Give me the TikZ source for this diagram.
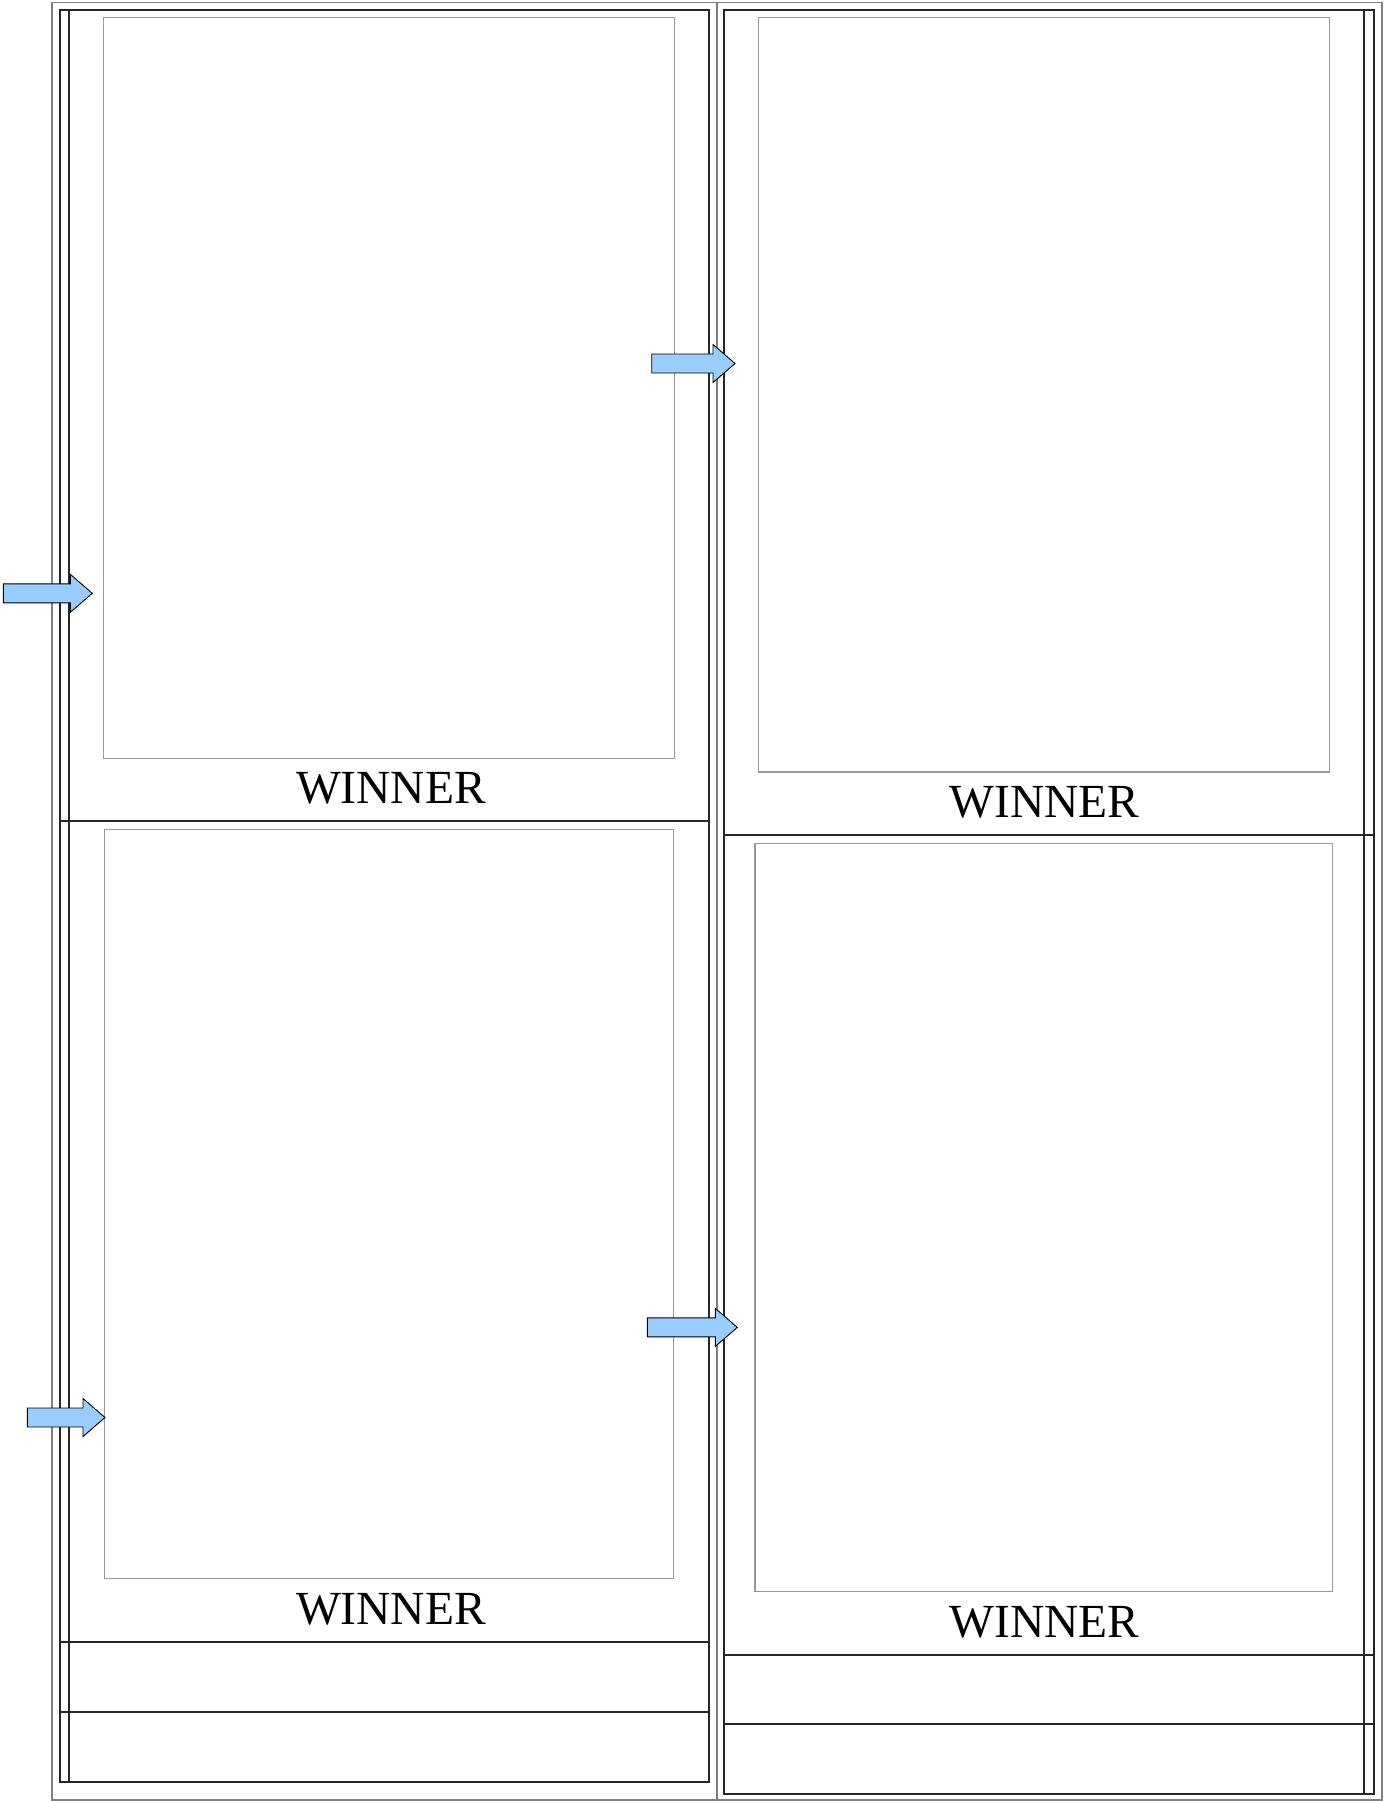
\documentclass[tikz,border=0pt]{standalone}
\usepackage{fontspec}
\setmainfont{Liberation Serif}
\usetikzlibrary{positioning}
\definecolor{arrowblue}{HTML}{99CCFF}
\begin{document}
\begin{tikzpicture}[x=1pt, y=-1pt,
    outer/.style={draw=black!50, line width=1.2pt},
    panel/.style={draw=black!85, line width=1.1pt},
    photo/.style={draw=black!40, line width=1.3pt},
    winner/.style={font=\fontsize{47.5}{47.5}\selectfont, anchor=base, inner sep=0pt},
    push/.style={draw=black, line width=0.9pt, fill=arrowblue}]
  \useasboundingbox (0,0) rectangle (1388,1801);
  % left column
  \draw[outer] (52,2.5) rectangle (717,1800);
  \draw[panel] (60,10) rectangle (709,1782);
  \draw[panel] (69,10) -- (69,1782);
  \draw[panel] (60,821) -- (709,821);
  \draw[panel] (60,1642) -- (709,1642);
  \draw[panel] (60,1712) -- (709,1712);
  \draw[photo] (103.5,17.2) rectangle (674.5,758.3);
  \draw[photo] (104.6,829.5) rectangle (673.3,1578.7);
  \node[winner] (w1) at (391,803) {WINNER};
  \node[winner] (w2) at (391,1624) {WINNER};
  % right column
  \draw[outer] (717,2.5) rectangle (1382,1800);
  \draw[panel] (724,10) rectangle (1374,1794);
  \draw[panel] (1364,10) -- (1364,1794);
  \draw[panel] (724,835) -- (1374,835);
  \draw[panel] (724,1655) -- (1374,1655);
  \draw[panel] (724,1724) -- (1374,1724);
  \draw[photo] (758.3,17.2) rectangle (1329.4,772);
  \draw[photo] (755,843.3) rectangle (1332.8,1591.4);
  \node[winner] (w3) at (1044.5,817) {WINNER};
  \node[winner] (w4) at (1044.5,1637) {WINNER};
  % arrows
  \foreach \tail/\tip/\y in {3.4/92.3/593.3, 651.7/735/363.5, 27.3/105/1417.5, 647.3/737.3/1327.4}
    \draw[push] (\tail,\y-9.5) -- (\tip-22,\y-9.5) -- (\tip-22,\y-19) -- (\tip,\y)
      -- (\tip-22,\y+19) -- (\tip-22,\y+9.5) -- (\tail,\y+9.5) -- cycle;
\end{tikzpicture}
\end{document}
